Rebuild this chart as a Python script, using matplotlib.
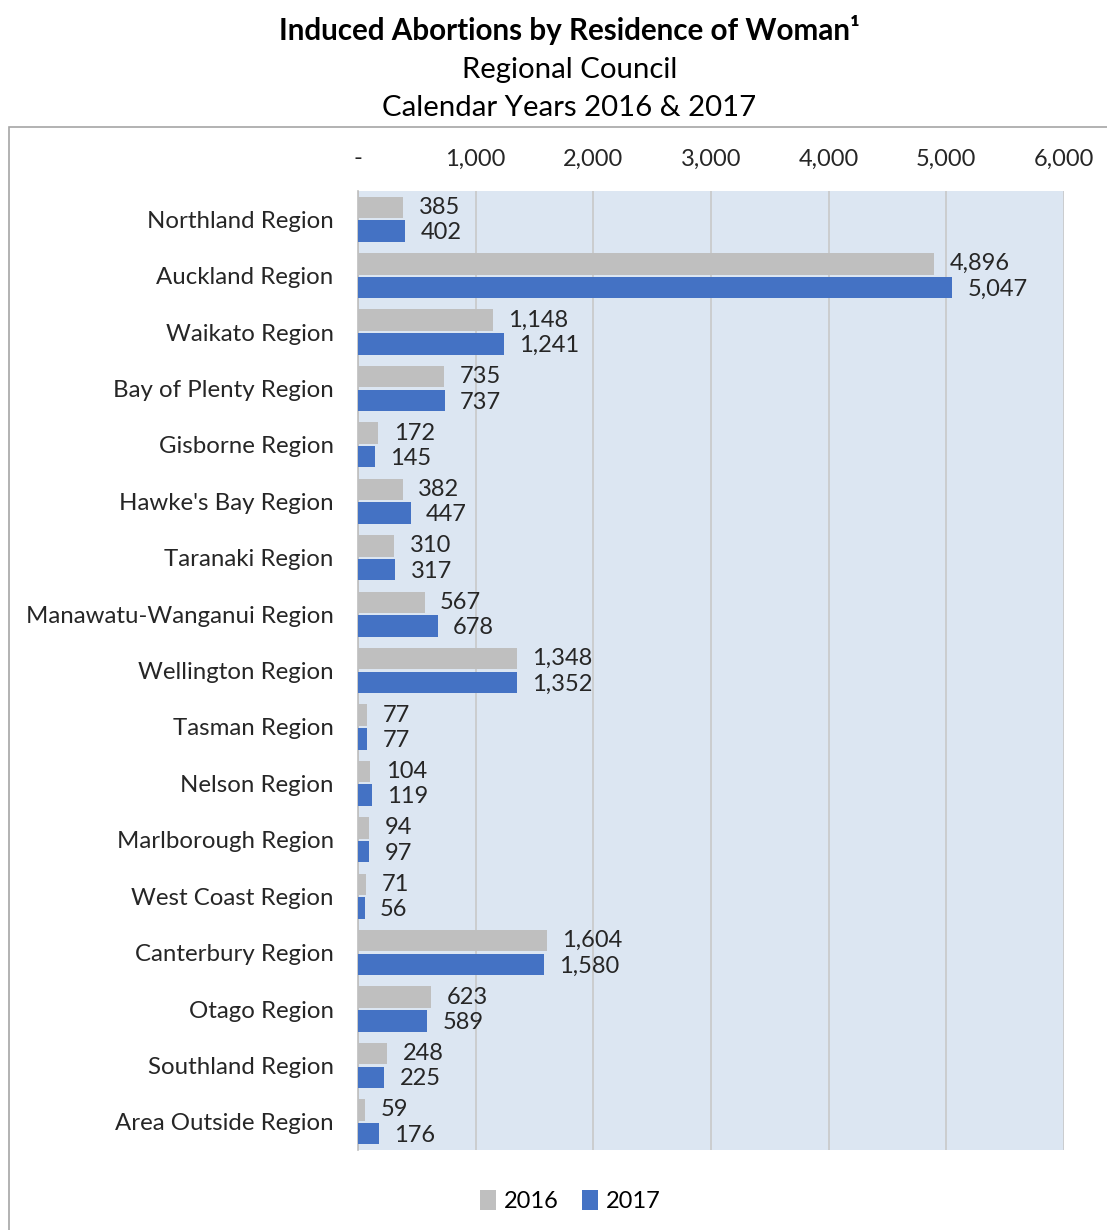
import matplotlib
matplotlib.use("Agg")
import matplotlib.pyplot as plt
import numpy as np
from matplotlib.patches import Rectangle

regions = ["Northland Region", "Auckland Region", "Waikato Region", "Bay of Plenty Region",
           "Gisborne Region", "Hawke's Bay Region", "Taranaki Region", "Manawatu-Wanganui Region",
           "Wellington Region", "Tasman Region", "Nelson Region", "Marlborough Region",
           "West Coast Region", "Canterbury Region", "Otago Region", "Southland Region",
           "Area Outside Region"]
v2016 = [385, 4896, 1148, 735, 172, 382, 310, 567, 1348, 77, 104, 94, 71, 1604, 623, 248, 59]
v2017 = [402, 5047, 1241, 737, 145, 447, 317, 678, 1352, 77, 119, 97, 56, 1580, 589, 225, 176]
xticks = [0, 1000, 2000, 3000, 4000, 5000, 6000]
xticklabels = ["-", "1,000", "2,000", "3,000", "4,000", "5,000", "6,000"]

plt.rcParams['font.family'] = ['Lato', 'DejaVu Sans']

fig = plt.figure(figsize=(11.07, 12.30), dpi=100)
ax = fig.add_axes([0.3234, 0.0650, 0.6378, 0.7797])

# outer chart border
fig.patches.append(Rectangle((9/1107, -0.01), 1.1, 1 - 127/1230 + 0.01, transform=fig.transFigure,
                             fill=False, edgecolor="#A6A6A6", linewidth=1.2, zorder=0))

n = len(regions)
y = np.arange(n)
h = 0.38
off = 0.21
ax.barh(y - off, v2016, height=h, color="#BFBFBF", label="2016", zorder=3)
ax.barh(y + off, v2017, height=h, color="#4472C4", label="2017", zorder=3)

for i in range(n):
    ax.text(v2016[i] + 130, y[i] - off, f"{v2016[i]:,}", va="center", ha="left",
            fontsize=17, color="#262626", zorder=4)
    ax.text(v2017[i] + 130, y[i] + off + 0.03, f"{v2017[i]:,}", va="center", ha="left",
            fontsize=17, color="#262626", zorder=4)

ax.set_xlim(0, 6000)
ax.set_ylim(n - 0.5, -0.5)
ax.set_facecolor("#DCE6F2")
ax.set_xticks(xticks)
ax.set_xticklabels(xticklabels, fontsize=17, color="#262626")
ax.xaxis.tick_top()
ax.tick_params(axis="x", length=0, pad=15.5)
ax.set_yticks(y)
ax.set_yticklabels(regions, fontsize=17.3, color="#262626")
ax.tick_params(axis="y", length=0, pad=17.5)
ax.grid(axis="x", color="#C8C8C8", linewidth=1.2, zorder=1)
ax.set_axisbelow(True)
for s in ["top", "right", "bottom"]:
    ax.spines[s].set_visible(False)
ax.spines["left"].set_color("#BFBFBF")
ax.spines["left"].set_linewidth(1.2)

fig.text(0.5145, 1 - 30/1230, "Induced Abortions by Residence of Woman\u00b9", ha="center", va="center",
         fontsize=21.3, fontweight="bold")
fig.text(0.5145, 1 - 70/1230, "Regional Council", ha="center", va="center", fontsize=21.2)
fig.text(0.5145, 1 - 108/1230, "Calendar Years 2016 & 2017", ha="center", va="center", fontsize=21.2)

fig.legend(loc="center", bbox_to_anchor=(570/1107, 1 - 1201/1230), ncol=2, frameon=False,
           fontsize=17, handlelength=0.7, handleheight=0.9, handletextpad=0.3, columnspacing=1.0)

fig.savefig("out.png", dpi=100, facecolor="white")
